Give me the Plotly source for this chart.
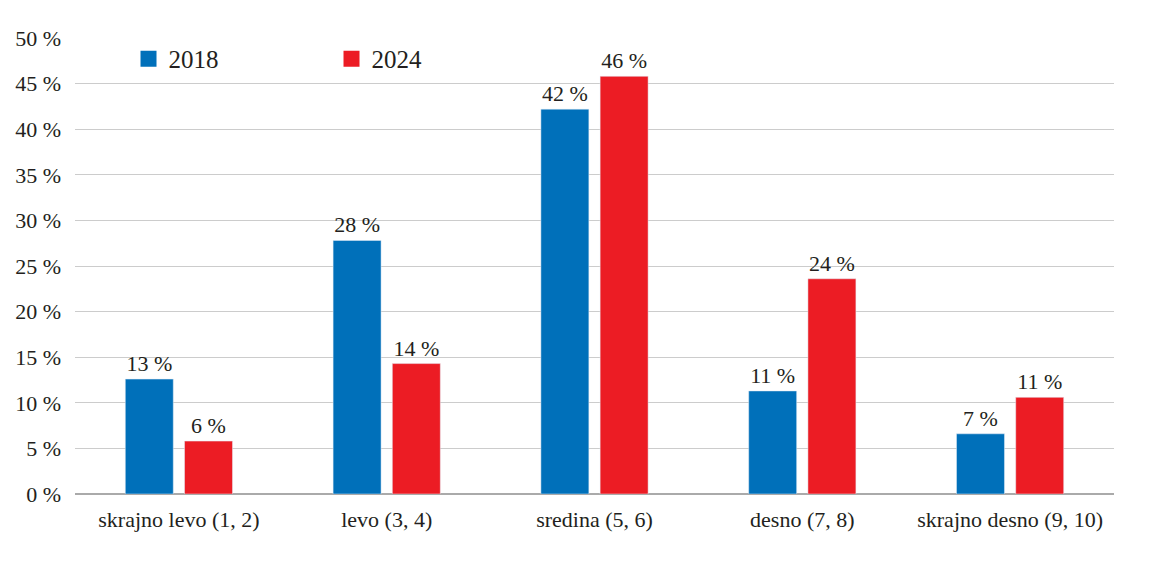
import plotly.graph_objects as go

categories = ["skrajno levo (1, 2)", "levo (3, 4)", "sredina (5, 6)", "desno (7, 8)", "skrajno desno (9, 10)"]
series_names = ["2018", "2024"]
values_2018 = [12.6, 27.8, 42.2, 11.3, 6.6]
values_2024 = [5.8, 14.3, 45.8, 23.6, 10.6]
tick_values = [0, 5, 10, 15, 20, 25, 30, 35, 40, 45, 50]
tick_labels = ["0 %", "5 %", "10 %", "15 %", "20 %", "25 %", "30 %", "35 %", "40 %", "45 %", "50 %"]

colors = ["#0070BA", "#EC1C24"]
FONT = "Liberation Serif"
TXT = "#231F20"

fig = go.Figure()
for name, vals, col in zip(series_names, [values_2018, values_2024], colors):
    fig.add_trace(go.Bar(
        x=categories, y=vals, name=name, marker_color=col, showlegend=False,
        text=[f"{round(v):d} %" for v in vals], textposition="outside",
        textfont=dict(family=FONT, size=22, color=TXT), cliponaxis=False,
    ))
    fig.add_trace(go.Scatter(
        x=[None], y=[None], mode="markers", name=name,
        marker=dict(symbol="square", size=22, color=col),
    ))

fig.update_layout(
    width=1159, height=586,
    margin=dict(l=67, r=53, t=30, b=100, autoexpand=False),
    paper_bgcolor="white", plot_bgcolor="white",
    bargap=0.43, bargroupgap=0.19, barmode="group",
    font=dict(family=FONT, size=22, color=TXT),
    legend=dict(orientation="h", x=0.0515, y=0.954, xanchor="left", yanchor="middle",
                entrywidth=158, entrywidthmode="pixels",
                font=dict(family=FONT, size=25, color=TXT), bgcolor="rgba(0,0,0,0)"),
)
fig.update_yaxes(range=[0, 50], tickvals=tick_values, ticktext=tick_labels, automargin=False,
                 showgrid=True, gridcolor="#CCCCCC", gridwidth=1, zeroline=True,
                 zerolinecolor="#AAAAAA", zerolinewidth=1.5,
                 tickfont=dict(family=FONT, size=22, color=TXT), ticks="", ticklabelstandoff=13)
fig.update_xaxes(tickfont=dict(family=FONT, size=22, color=TXT), showline=False, ticks="",
                 automargin=False, ticklabelstandoff=10)

fig.write_html("out.html")
